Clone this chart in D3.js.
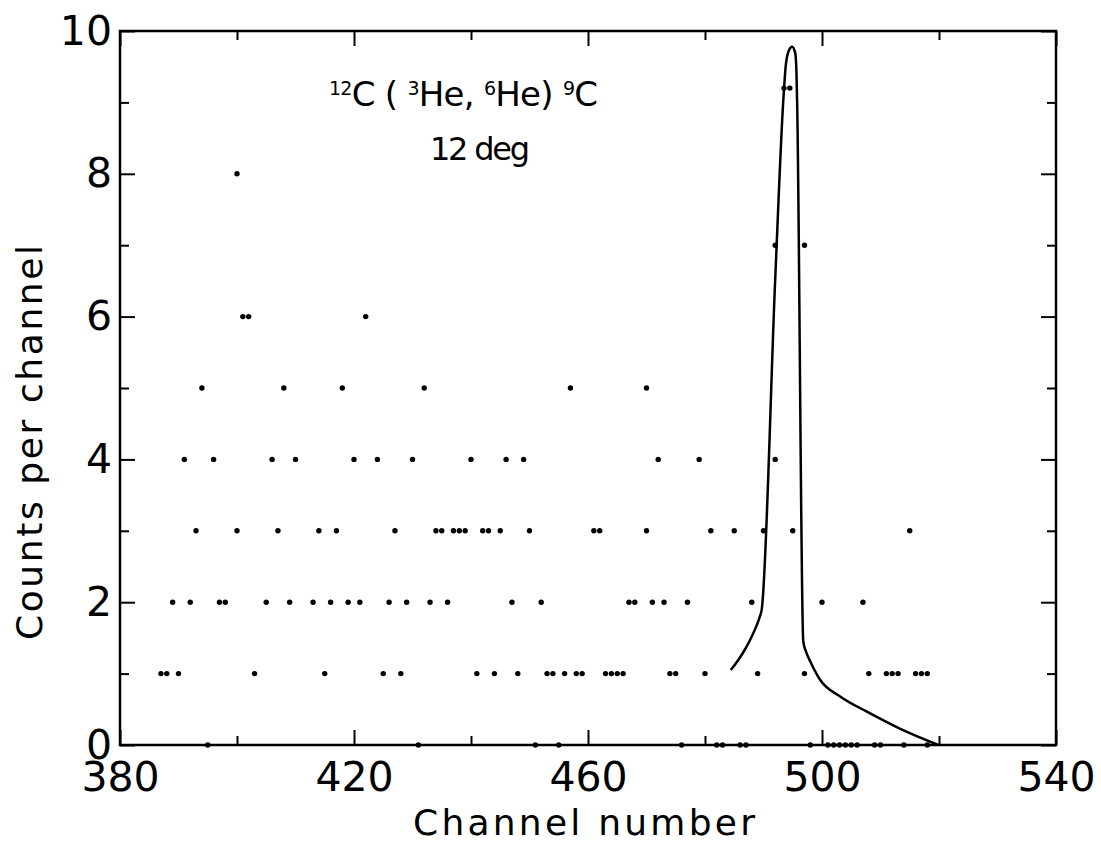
<!DOCTYPE html>
<html>
<head>
<meta charset="utf-8">
<script src="https://cdn.jsdelivr.net/npm/d3@7"></script>
<style>
  html, body { margin: 0; padding: 0; background: #fff; }
  svg { display: block; }
  text { font-family: "DejaVu Sans", sans-serif; fill: #000; }
</style>
</head>
<body>
<svg id="chart" width="1101" height="844"></svg>
<script>
// ---- data ----
const xTicksMajor = [380, 420, 460, 500, 540];
const xTicksMinor = [400, 440, 480, 520];
const yTicksMajor = [0, 2, 4, 6, 8, 10];
const yTicksMinor = [1, 3, 5, 7, 9];

// measured counts per channel (dot rows)
const ch0 = [395, 431, 451, 455, 476, 482, 483, 486, 487, 498, 501, 502, 503, 504, 505, 506, 509, 510, 514, 518];
const ch1 = [387, 388, 390, 403, 415, 425, 428, 441, 444, 448, 453, 454, 456, 458, 459, 463, 464, 465, 466, 474, 475, 480, 489, 497, 508, 511, 512, 513, 516, 517, 518];
const ch2 = [389, 392, 397, 398, 405, 409, 413, 416, 419, 421, 426, 429, 433, 436, 447, 452, 467, 468, 471, 473, 477, 488, 500, 507];
const ch3 = [393, 400, 407, 414, 417, 427, 434, 435, 437, 438, 439, 442, 443, 445, 450, 461, 462, 470, 481, 485, 490, 495, 515];
const ch4 = [391, 396, 406, 410, 420, 424, 430, 440, 446, 449, 472, 479, 492];
const ch5 = [394, 408, 418, 432, 457, 470];
const ch6 = [401, 402, 422];
const ch7 = [492, 497];
const ch8 = [400];
const chPeak = [493.5, 494.5];
const peakCounts = 9.2;

// fitted line shape
const fitChannel = [484.4, 485.6, 486.7, 487.7, 488.6, 489.3, 489.7, 492.0, 493.4, 493.8, 494.3, 494.9, 495.4, 495.6, 495.75, 496.8, 497.3, 498.0, 499.7, 503.1, 507.6, 513.3, 519.9];
const fitCounts  = [1.05, 1.18, 1.32, 1.47, 1.63, 1.78, 1.90, 6.52, 9.05, 9.51, 9.72, 9.78, 9.70, 9.50, 9.00, 1.45, 1.30, 1.17, 0.91, 0.68, 0.47, 0.23, 0.0];

// ---- drawing ----
const svg = d3.select("#chart");
const L = 120, R = 1056, T = 31, B = 745;
const x = d3.scaleLinear().domain([380, 540]).range([L, R]);
const y = d3.scaleLinear().domain([0, 10]).range([B, T]);

const points = [];
[[ch0,0],[ch1,1],[ch2,2],[ch3,3],[ch4,4],[ch5,5],[ch6,6],[ch7,7],[ch8,8]].forEach(([arr, v]) => {
  arr.forEach(c => points.push({c, v}));
});
chPeak.forEach(c => points.push({c, v: peakCounts}));

const MAJ = 15, MIN = 9;
function styleAxis(g, labels) {
  g.select(".domain").remove();
  g.selectAll(".tick line").attr("stroke", "#000").attr("stroke-width", 2);
  if (!labels) g.selectAll(".tick text").remove();
  else g.selectAll(".tick text").attr("font-size", 41).attr("fill", "#000").attr("font-family", "DejaVu Sans");
}

// bottom
svg.append("g").attr("transform", `translate(0,${B})`)
  .call(d3.axisBottom(x).tickValues(xTicksMajor).tickFormat(d3.format("d")).tickSizeInner(-MAJ).tickSizeOuter(0).tickPadding(17))
  .call(g => styleAxis(g, true));
svg.append("g").attr("transform", `translate(0,${B})`)
  .call(d3.axisBottom(x).tickValues(xTicksMinor).tickSizeInner(-MIN).tickSizeOuter(0))
  .call(g => styleAxis(g, false));
// top
svg.append("g").attr("transform", `translate(0,${T})`)
  .call(d3.axisTop(x).tickValues(xTicksMajor).tickSizeInner(-MAJ).tickSizeOuter(0))
  .call(g => styleAxis(g, false));
svg.append("g").attr("transform", `translate(0,${T})`)
  .call(d3.axisTop(x).tickValues(xTicksMinor).tickSizeInner(-MIN).tickSizeOuter(0))
  .call(g => styleAxis(g, false));
// left
svg.append("g").attr("transform", `translate(${L},0)`)
  .call(d3.axisLeft(y).tickValues(yTicksMajor).tickFormat(d3.format("d")).tickSizeInner(-MAJ).tickSizeOuter(0).tickPadding(8))
  .call(g => styleAxis(g, true));
svg.append("g").attr("transform", `translate(${L},0)`)
  .call(d3.axisLeft(y).tickValues(yTicksMinor).tickSizeInner(-MIN).tickSizeOuter(0))
  .call(g => styleAxis(g, false));
// right
svg.append("g").attr("transform", `translate(${R},0)`)
  .call(d3.axisRight(y).tickValues(yTicksMajor).tickSizeInner(-MAJ).tickSizeOuter(0))
  .call(g => styleAxis(g, false));
svg.append("g").attr("transform", `translate(${R},0)`)
  .call(d3.axisRight(y).tickValues(yTicksMinor).tickSizeInner(-MIN).tickSizeOuter(0))
  .call(g => styleAxis(g, false));

// frame
svg.append("rect").attr("x", L).attr("y", T).attr("width", R - L).attr("height", B - T)
  .attr("fill", "none").attr("stroke", "#000").attr("stroke-width", 2.5);

// fit curve
const lineGen = d3.line().x(d => x(d[0])).y(d => y(d[1])).curve(d3.curveMonotoneX);
svg.append("path").datum(fitChannel.map((c, i) => [c, fitCounts[i]]))
  .attr("d", lineGen).attr("fill", "none").attr("stroke", "#000").attr("stroke-width", 2.5)
  .attr("stroke-linejoin", "round");

// dots
svg.append("g").selectAll("circle").data(points).join("circle")
  .attr("cx", d => x(d.c)).attr("cy", d => y(d.v)).attr("r", 2.7).attr("fill", "#000");

// axis titles
svg.append("text").attr("x", 413).attr("y", 835).attr("font-size", 36)
  .attr("textLength", 342).attr("lengthAdjust", "spacing").text("Channel number");
svg.append("text").attr("transform", "translate(42,640) rotate(-90)").attr("font-size", 36)
  .attr("textLength", 395).attr("lengthAdjust", "spacing").text("Counts per channel");

// annotation
const t = svg.append("text").attr("x", 329).attr("y", 106).attr("font-size", 34)
  .attr("textLength", 269).attr("lengthAdjust", "spacing");
const parts = [["12", true], ["C ( ", false], ["3", true], ["He, ", false], ["6", true], ["He) ", false], ["9", true], ["C", false]];
parts.forEach(([s, sup]) => {
  t.append("tspan").attr("font-size", sup ? 19 : 34).attr("baseline-shift", sup ? "60%" : null).text(s);
});
svg.append("text").attr("x", 430).attr("y", 160).attr("font-size", 32)
  .attr("textLength", 100).attr("lengthAdjust", "spacing").text("12 deg");
</script>
</body>
</html>
